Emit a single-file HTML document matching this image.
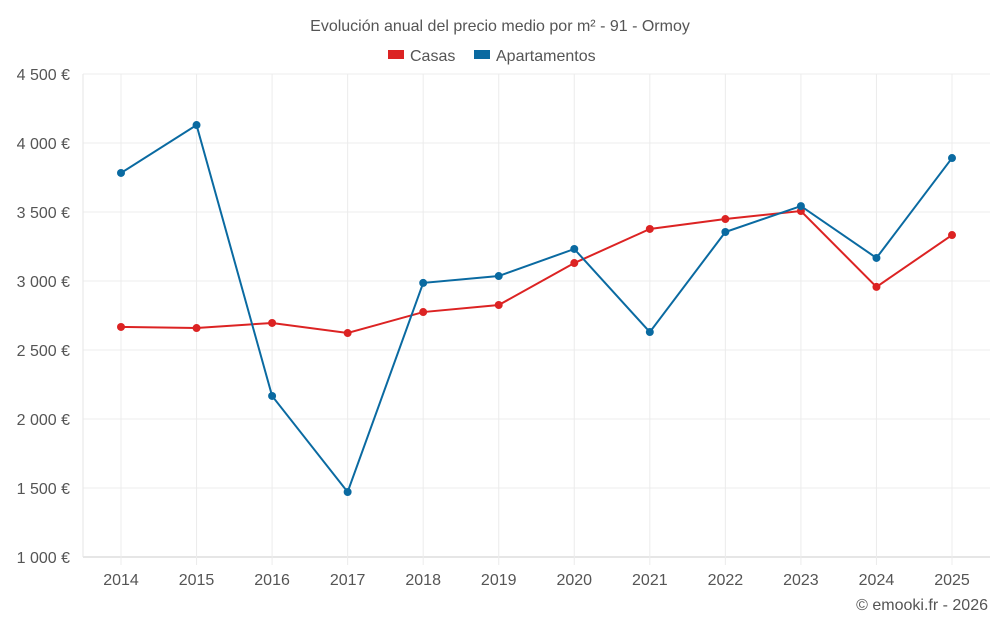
<!DOCTYPE html>
<html><head><meta charset="utf-8"><style>
body{margin:0;background:#fff;font-family:"Liberation Sans",sans-serif;}
svg text{font-family:"Liberation Sans",sans-serif;fill:#555;}
</style></head><body>
<svg id="chart" width="1000" height="625">
<text x="500" y="31" text-anchor="middle" font-size="16">Evolución anual del precio medio por m² - 91 - Ormoy</text>
<g>
<g><rect x="388" y="50" width="16" height="9" fill="#dc2323"/><text x="410" y="61" font-size="16">Casas</text></g>
<g><rect x="474" y="50" width="16" height="9" fill="#0a6aa1"/><text x="496" y="61" font-size="16">Apartamentos</text></g>
</g>
<g id="grid"></g><g id="axes"></g><g id="series"></g>
<text x="988" y="610" text-anchor="end" font-size="16">© emooki.fr - 2026</text>
</svg>
<script>
const years=[2014,2015,2016,2017,2018,2019,2020,2021,2022,2023,2024,2025];
const casas=[2667,2659,2696,2623,2775,2826,3130,3377,3449,3507,2957,3333];
const apartamentos=[3783,4130,2167,1471,2986,3036,3232,2630,3355,3543,3167,3891];
const yTicks=[1000,1500,2000,2500,3000,3500,4000,4500];
const yTickLabels=["1 000 €","1 500 €","2 000 €","2 500 €","3 000 €","3 500 €","4 000 €","4 500 €"];
const L=83,R=990,T=74,B=557,yMin=1000,yMax=4500;
const ns="http://www.w3.org/2000/svg";
function x(i){return 121+i*(952-121)/(years.length-1);}
function y(v){return B-(v-yMin)/(yMax-yMin)*(B-T);}
function mk(tag,attrs,parent){const e=document.createElementNS(ns,tag);for(const k in attrs)e.setAttribute(k,attrs[k]);parent.appendChild(e);return e;}
const grid=document.getElementById('grid'),axes=document.getElementById('axes'),series=document.getElementById('series');
yTicks.forEach((v,i)=>{
 const l=mk('line',{x1:L,x2:R,y1:y(v),y2:y(v),stroke:i==0?'#ccc':'#ececec'},grid);
 
 
 const t=mk('text',{x:70,y:y(v)+6,'text-anchor':'end','font-size':16},axes);
 t.textContent=yTickLabels[i];
 
 
});
years.forEach((yr,i)=>{
 const l=mk('line',{x1:x(i),x2:x(i),y1:T,y2:B+8,stroke:'#ececec'},grid);
 
 
 const t=mk('text',{x:x(i),y:585,'text-anchor':'middle','font-size':16},axes);
 t.textContent=yr;
 
 
});
const vl=mk('line',{x1:L,x2:L,y1:T,y2:B,stroke:'#e6e6e6'},grid);


function draw(vals,color,name){
 const p=mk('polyline',{points:vals.map((v,i)=>x(i)+','+y(v)).join(' '),fill:'none',stroke:color,'stroke-width':2},series);
 
 
 vals.forEach((v,i)=>{
  const c=mk('circle',{cx:x(i),cy:y(v),r:4,fill:color},series);
  
  
 });
}
draw(casas,'#dc2323','casas');
draw(apartamentos,'#0a6aa1','apartamentos');
</script>
</body></html>
